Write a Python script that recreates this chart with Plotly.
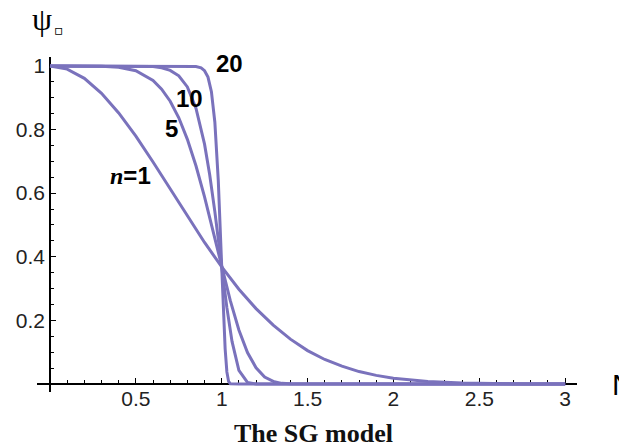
import plotly.graph_objects as go

# ---- data ----
x_n1 = [0, 0.1, 0.2, 0.3, 0.4, 0.5, 0.6, 0.7, 0.8, 0.9, 1.0, 1.1, 1.2, 1.3, 1.4, 1.5,
        1.6, 1.7, 1.8, 1.9, 2.0, 2.2, 2.4, 2.6, 2.8, 3.0]
y_n1 = [1.0, 0.99, 0.961, 0.914, 0.852, 0.779, 0.698, 0.613, 0.527, 0.445, 0.368, 0.298,
        0.237, 0.185, 0.141, 0.105, 0.077, 0.056, 0.039, 0.027, 0.018, 0.008, 0.003,
        0.001, 0.0, 0.0]

x_n5 = [0, 0.2, 0.3, 0.4, 0.5, 0.6, 0.65, 0.7, 0.75, 0.8, 0.85, 0.9, 0.95, 1.0, 1.05,
        1.1, 1.15, 1.2, 1.25, 1.3, 1.35, 1.4, 1.5, 2.0, 3.0]
y_n5 = [1.0, 1.0, 0.999, 0.996, 0.985, 0.954, 0.927, 0.889, 0.837, 0.769, 0.686, 0.588,
        0.479, 0.368, 0.262, 0.170, 0.099, 0.051, 0.022, 0.008, 0.002, 0.0005, 0.0, 0.0, 0.0]

x_n10 = [0, 0.4, 0.5, 0.6, 0.65, 0.7, 0.75, 0.8, 0.85, 0.9, 0.93, 0.96, 1.0, 1.03, 1.06,
         1.1, 1.15, 1.2, 1.3, 2.0, 3.0]
y_n10 = [1.0, 1.0, 1.0, 0.998, 0.994, 0.986, 0.969, 0.934, 0.867, 0.754, 0.658, 0.542,
         0.368, 0.240, 0.134, 0.043, 0.005, 0.0, 0.0, 0.0, 0.0]

x_n20 = [0, 0.8, 0.85, 0.88, 0.9, 0.92, 0.94, 0.96, 0.98, 1.0, 1.01, 1.02, 1.03, 1.04,
         1.05, 1.1, 2.0, 3.0]
y_n20 = [1.0, 1.0, 0.998, 0.994, 0.985, 0.965, 0.919, 0.823, 0.640, 0.368, 0.226, 0.110,
         0.038, 0.008, 0.001, 0.0, 0.0, 0.0]

series = [(x_n1, y_n1), (x_n5, y_n5), (x_n10, y_n10), (x_n20, y_n20)]

x_tickvals = [0.5, 1, 1.5, 2, 2.5, 3]
x_ticktext = ["0.5", "1", "1.5", "2", "2.5", "3"]
y_tickvals = [0.2, 0.4, 0.6, 0.8, 1]
y_ticktext = ["0.2", "0.4", "0.6", "0.8", "1"]

LINE = "#7a72bc"

fig = go.Figure()
for xs, ys in series:
    fig.add_trace(go.Scatter(x=xs, y=ys, mode="lines", line=dict(color=LINE, width=3),
                             showlegend=False, hoverinfo="skip"))

tickfont = dict(family="Liberation Sans, Arial, sans-serif", size=21, color="#222")

fig.update_layout(
    width=619, height=448,
    margin=dict(l=37, r=42, t=57, b=56),
    paper_bgcolor="white", plot_bgcolor="white",
    xaxis=dict(range=[-0.0757, 3.069], anchor="free", position=0.0239,
               showline=True, linecolor="black", linewidth=1.5,
               ticks="inside", ticklen=5, tickwidth=1.3, tickcolor="black",
               tickvals=x_tickvals, ticktext=x_ticktext, tickfont=tickfont,
               ticklabelstandoff=-4,
               showgrid=False, zeroline=False, layer="below traces",
               minor=dict(ticks="inside", ticklen=3, tickwidth=1, tickcolor="black",
                          dtick=0.1, tick0=0, showgrid=False)),
    yaxis=dict(range=[-0.0252, 1.028], anchor="free", position=0.0241,
               showline=True, linecolor="black", linewidth=1.5,
               ticks="inside", ticklen=5, tickwidth=1.3, tickcolor="black",
               tickvals=y_tickvals, ticktext=y_ticktext, tickfont=tickfont,
               showgrid=False, zeroline=False, layer="below traces",
               minor=dict(ticks="inside", ticklen=3, tickwidth=1, tickcolor="black",
                          dtick=0.05, tick0=0, showgrid=False)),
)

bold = dict(family="Liberation Sans, Arial, sans-serif", size=24, color="black")
fig.add_annotation(x=1.043, y=1.009, xref="x", yref="y", text="<b>20</b>",
                   showarrow=False, font=bold)
fig.add_annotation(x=0.815, y=0.896, xref="x", yref="y", text="<b>10</b>",
                   showarrow=False, font=bold)
fig.add_annotation(x=0.708, y=0.802, xref="x", yref="y", text="<b>5</b>",
                   showarrow=False, font=bold)
fig.add_annotation(x=0.466, y=0.657, xref="x", yref="y",
                   text="<span style='font-family:Liberation Serif'><b><i>n</i></b></span><b>=1</b>",
                   showarrow=False, font=bold)

# axis label psi
fig.add_annotation(x=(42 - 37) / 540, y=(392 - 19) / 335, xref="paper", yref="paper",
                   text="ψ", showarrow=False, xanchor="center", yanchor="middle",
                   font=dict(family="Liberation Serif, serif", size=32, color="black"))
fig.add_annotation(x=(59 - 37) / 540, y=(392 - 30) / 335, xref="paper", yref="paper",
                   text="▫", showarrow=False, xanchor="center", yanchor="middle",
                   font=dict(family="DejaVu Sans", size=14, color="black"))
# cut-off axis label at the right edge
fig.add_annotation(x=(610 - 37) / 540, y=(392 - 384) / 335, xref="paper", yref="paper",
                   text="N", showarrow=False, xanchor="left", yanchor="middle",
                   font=dict(family="Liberation Sans, Arial, sans-serif", size=30,
                             color="black"))
# caption
fig.add_annotation(x=(313 - 37) / 540, y=(392 - 433) / 335, xref="paper", yref="paper",
                   text="<b>The SG model</b>", showarrow=False,
                   xanchor="center", yanchor="middle",
                   font=dict(family="Liberation Serif, Times New Roman, serif", size=26,
                             color="#111"))

fig.write_html("out.html")
